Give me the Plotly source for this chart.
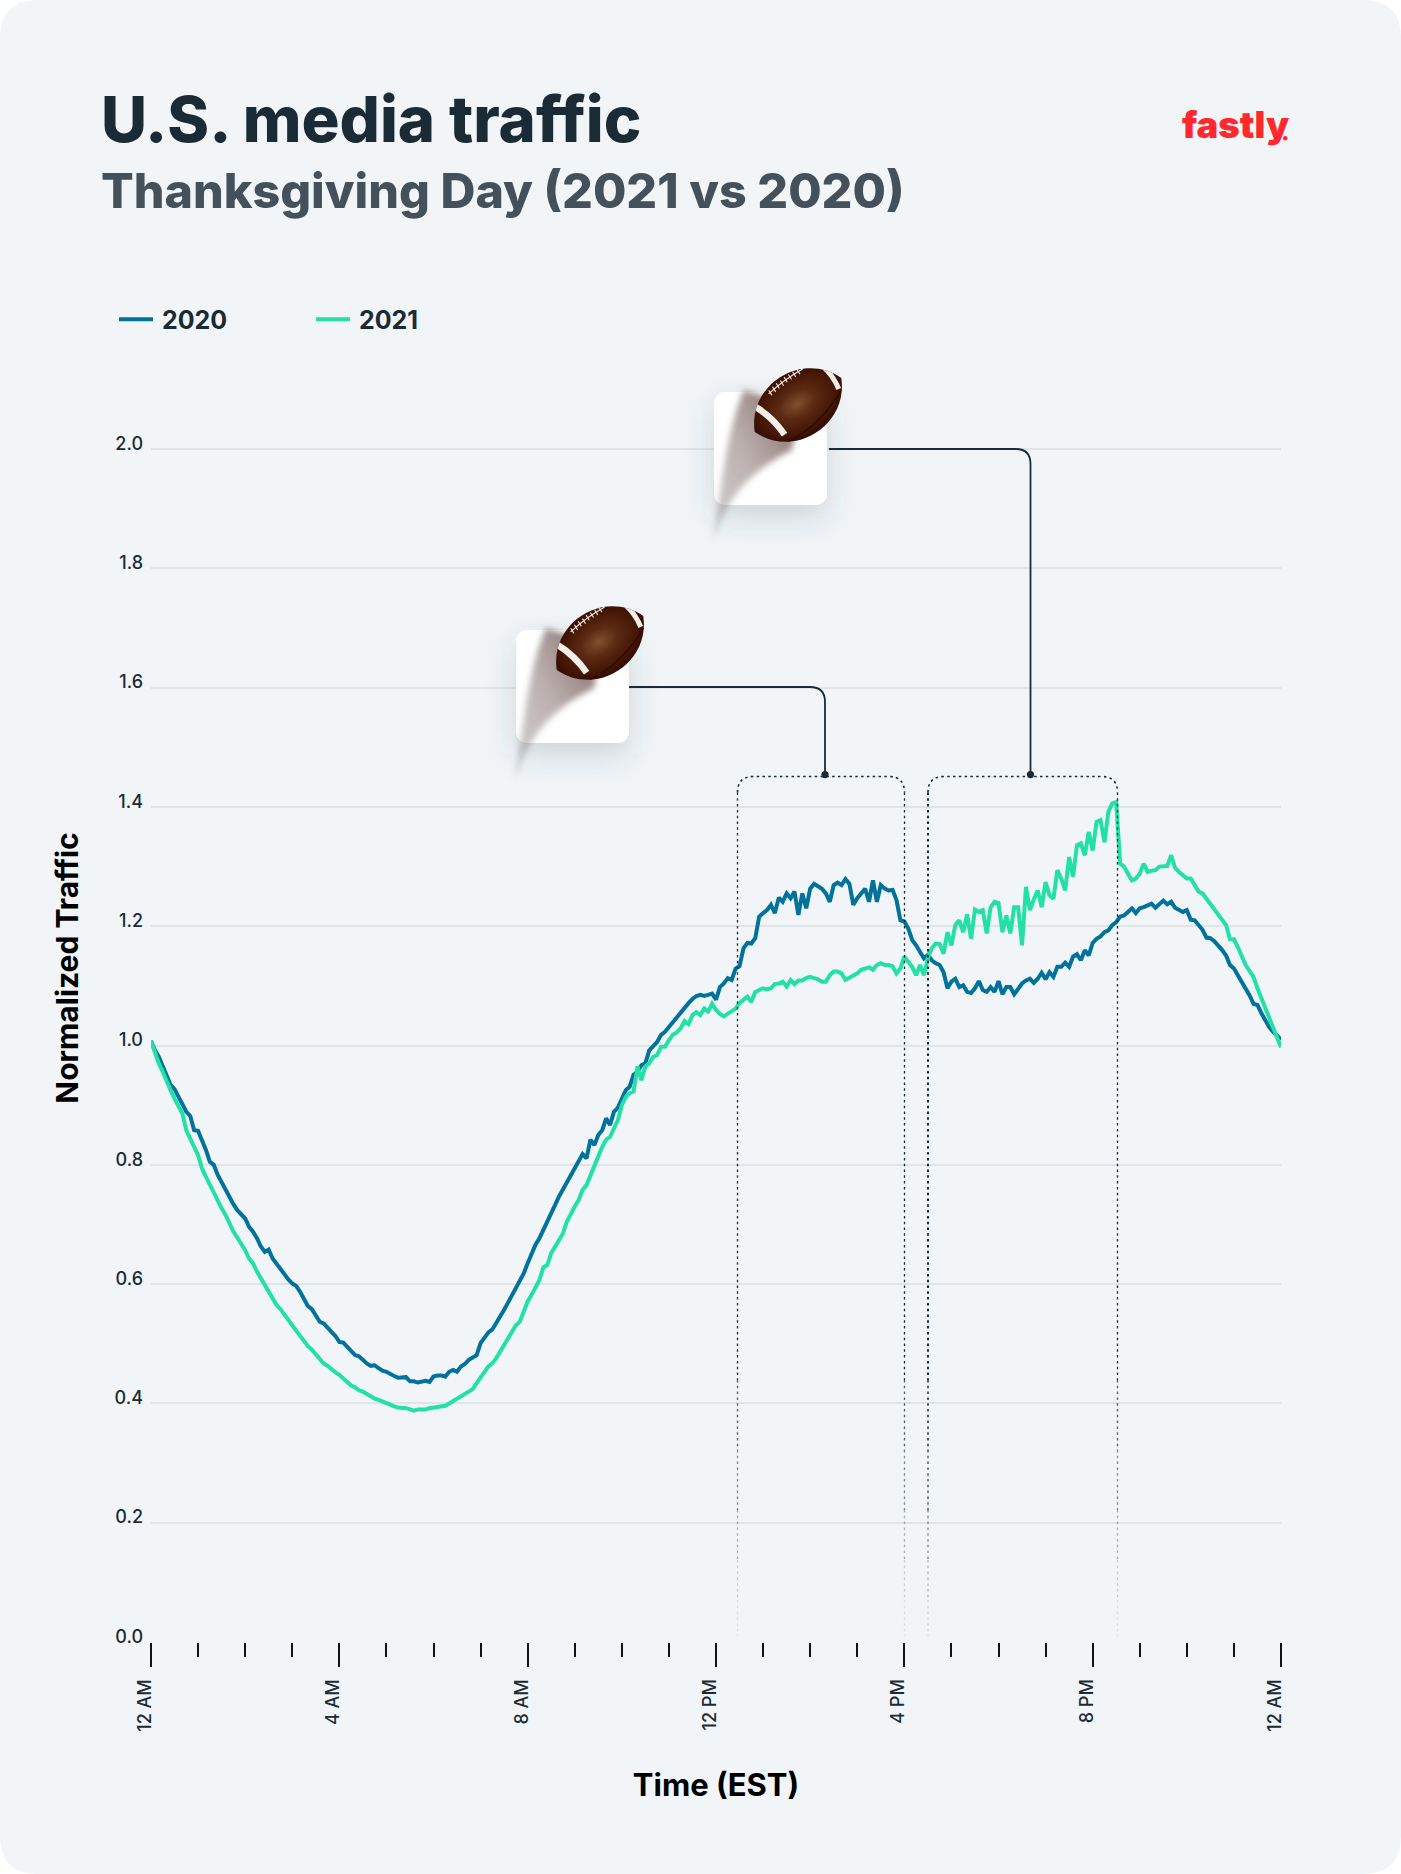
import base64
import plotly.graph_objects as go

# normalized traffic, one reading every 5 minutes from 12 AM to 12 AM
minutes = list(range(0, 1445, 5))

traffic_2020 = [
    1.008, .992, .981, .965, .951, .934, .927, .914, .899, .889, .882, .858,
    .857, .842, .825, .805, .800, .783, .770, .757, .744, .734, .724, .716,
    .710, .696, .688, .677, .663, .654, .658, .643, .634, .624, .615, .608,
    .601, .597, .587, .576, .563, .558, .548, .537, .534, .526, .520, .513,
    .503, .502, .495, .488, .481, .479, .472, .467, .463, .464, .459, .455,
    .453, .449, .446, .443, .444, .444, .437, .437, .435, .437, .438, .436,
    .445, .447, .447, .445, .453, .456, .453, .462, .466, .473, .478, .481,
    .501, .509, .519, .524, .534, .547, .557, .569, .582, .595, .608, .618,
    .635, .652, .666, .677, .692, .705, .721, .733, .747, .759, .769, .783,
    .794, .808, .818, .811, .842, .833, .850, .858, .878, .867, .889, .896,
    .911, .925, .931, .951, .956, .967, .970, .992, .999, 1.006, 1.018, 1.023,
    1.031, 1.039, 1.048, 1.056, 1.065, 1.071, 1.078, 1.083, 1.085, 1.083, 1.085, 1.087,
    1.077, 1.098, 1.104, 1.113, 1.110, 1.129, 1.133, 1.163, 1.172, 1.171, 1.180, 1.216,
    1.222, 1.227, 1.236, 1.222, 1.248, 1.241, 1.255, 1.247, 1.258, 1.219, 1.255, 1.230,
    1.263, 1.271, 1.267, 1.263, 1.255, 1.241, 1.269, 1.273, 1.269, 1.279, 1.271, 1.236,
    1.247, 1.255, 1.263, 1.241, 1.277, 1.241, 1.269, 1.263, 1.260, 1.261, 1.244, 1.210,
    1.208, 1.196, 1.177, 1.168, 1.157, 1.146, 1.152, 1.143, 1.138, 1.135, 1.123, 1.096,
    1.107, 1.112, 1.098, 1.101, 1.090, 1.088, 1.096, 1.108, 1.093, 1.090, 1.098, 1.090,
    1.108, 1.086, 1.098, 1.098, 1.086, 1.095, 1.104, 1.109, 1.112, 1.105, 1.112, 1.122,
    1.111, 1.123, 1.115, 1.132, 1.132, 1.139, 1.132, 1.149, 1.153, 1.143, 1.160, 1.151,
    1.172, 1.179, 1.183, 1.190, 1.193, 1.202, 1.207, 1.216, 1.218, 1.224, 1.230, 1.222,
    1.230, 1.232, 1.235, 1.238, 1.231, 1.238, 1.243, 1.237, 1.241, 1.231, 1.228, 1.224,
    1.227, 1.211, 1.210, 1.202, 1.194, 1.181, 1.180, 1.175, 1.168, 1.160, 1.151, 1.135,
    1.129, 1.118, 1.107, 1.096, 1.084, 1.070, 1.068, 1.054, 1.042, 1.031, 1.023, 1.017,
    1.010,
]

traffic_2021 = [
    1.008, .987, .970, .956, .939, .925, .911, .900, .886, .858, .842, .830,
    .816, .794, .780, .766, .752, .741, .727, .716, .702, .688, .678, .668,
    .657, .643, .635, .621, .610, .599, .587, .576, .565, .558, .548, .540,
    .531, .522, .513, .503, .496, .490, .483, .476, .467, .463, .457, .452,
    .448, .442, .435, .430, .427, .422, .420, .416, .411, .408, .406, .403,
    .400, .397, .395, .393, .393, .392, .390, .388, .390, .390, .390, .392,
    .393, .395, .396, .396, .400, .404, .408, .413, .417, .420, .424, .434,
    .445, .453, .462, .467, .476, .487, .498, .509, .520, .531, .537, .554,
    .571, .582, .596, .607, .628, .632, .652, .663, .677, .685, .705, .719,
    .730, .741, .758, .766, .783, .797, .814, .830, .842, .847, .861, .875,
    .900, .914, .920, .923, .965, .942, .965, .970, .981, .984, .998, .998,
    1.009, 1.018, 1.022, 1.029, 1.041, 1.036, 1.051, 1.056, 1.051, 1.062, 1.057, 1.070,
    1.060, 1.053, 1.049, 1.054, 1.057, 1.062, 1.071, 1.076, 1.082, 1.073, 1.090, 1.093,
    1.096, 1.094, 1.096, 1.103, 1.104, 1.107, 1.099, 1.110, 1.103, 1.109, 1.109, 1.113,
    1.115, 1.113, 1.111, 1.107, 1.107, 1.118, 1.124, 1.124, 1.121, 1.110, 1.114, 1.118,
    1.121, 1.127, 1.129, 1.131, 1.127, 1.135, 1.138, 1.135, 1.135, 1.133, 1.121, 1.129,
    1.149, 1.141, 1.132, 1.118, 1.135, 1.118, 1.146, 1.163, 1.171, 1.170, 1.154, 1.190,
    1.168, 1.202, 1.210, 1.190, 1.220, 1.179, 1.228, 1.224, 1.227, 1.188, 1.232, 1.241,
    1.239, 1.190, 1.218, 1.188, 1.232, 1.232, 1.168, 1.266, 1.227, 1.245, 1.260, 1.232,
    1.274, 1.252, 1.246, 1.294, 1.280, 1.260, 1.316, 1.283, 1.336, 1.339, 1.319, 1.358,
    1.327, 1.375, 1.378, 1.341, 1.392, 1.406, 1.408, 1.305, 1.300, 1.288, 1.277, 1.280,
    1.288, 1.305, 1.291, 1.293, 1.294, 1.300, 1.300, 1.301, 1.319, 1.298, 1.291, 1.286,
    1.280, 1.280, 1.269, 1.258, 1.255, 1.246, 1.238, 1.227, 1.218, 1.210, 1.202, 1.178,
    1.178, 1.165, 1.150, 1.135, 1.125, 1.115, 1.096, 1.079, 1.062, 1.048, 1.031, 1.015,
    .997,
]

assert len(minutes) == len(traffic_2020) == len(traffic_2021), (len(minutes), len(traffic_2020), len(traffic_2021))

hour_ticks = [0, 4, 8, 12, 16, 20, 24]
hour_labels = ['12 AM', '4 AM', '8 AM', '12 PM', '4 PM', '8 PM', '12 AM']
value_ticks = [0, .2, .4, .6, .8, 1, 1.2, 1.4, 1.6, 1.8, 2]

INK = '#1B2B35'
BLUE = '#00729C'
GREEN = '#22E0A6'
PAGE = '#F1F5F8'
GRID = '#E1E4E7'
W, H = 1401, 1874
PLOT_L, PLOT_R, PLOT_T, PLOT_B = 151, 1281, 294, 1642


def px(x):
    return (x - PLOT_L) / (PLOT_R - PLOT_L)


def py(y):
    return (PLOT_B - y) / (PLOT_B - PLOT_T)


def path_str(*cmds):
    # cmds are ('M', x, y), ('L', x, y), ('Q', cx, cy, x, y) in page pixels
    out = []
    for c in cmds:
        pts = c[1:]
        vals = [px(v) if k % 2 == 0 else py(v) for k, v in enumerate(pts)]
        out.append(c[0] + ' ' + ' '.join('{:.5f}'.format(v) for v in vals))
    return ' '.join(out)


def paper_path(path, **kwargs):
    return dict(type='path', path=path, xref='paper', yref='paper', **kwargs)


ball_svg = '''<svg xmlns="http://www.w3.org/2000/svg" width="240" height="260" viewBox="0 0 240 260">
<defs>
<filter id="sh" x="-50%" y="-50%" width="200%" height="200%"><feGaussianBlur stdDeviation="15"/></filter>
<filter id="tr" x="-30%" y="-30%" width="160%" height="160%"><feGaussianBlur stdDeviation="3"/></filter>
<linearGradient id="tg" x1="1" y1="0" x2="0" y2="1">
<stop offset="0" stop-color="#5e3c38" stop-opacity=".8"/><stop offset=".55" stop-color="#6e5552" stop-opacity=".45"/>
<stop offset="1" stop-color="#6b6565" stop-opacity=".3"/></linearGradient>
<radialGradient id="bg" cx=".5" cy=".48" r=".55">
<stop offset="0" stop-color="#80502f"/><stop offset=".35" stop-color="#5c2a12"/>
<stop offset=".75" stop-color="#431505"/><stop offset="1" stop-color="#2b0802"/></radialGradient>
<clipPath id="bc"><path d="M-51,0 C-32,-44 32,-44 51,0 C32,44 -32,44 -51,0 Z"/></clipPath>
</defs>
<g transform="translate(40,40)">
<rect x="0" y="12" width="113" height="113" rx="11" fill="#3c4a55" fill-opacity=".2" filter="url(#sh)"/>
<rect width="113" height="113" rx="11" fill="#ffffff"/>
<path d="M30,-2 C12,40 8,92 -1,150 C12,110 30,82 78,58 L85,15 Z" fill="url(#tg)" filter="url(#tr)"/>
<g transform="translate(84,13) rotate(-32)">
<path d="M-51,0 C-32,-44 32,-44 51,0 C32,44 -32,44 -51,0 Z" fill="url(#bg)"/>
<g clip-path="url(#bc)">
<path d="M-37,-21 Q-28,-3 -27,18" fill="none" stroke="#F3EFE8" stroke-width="6.5"/>
<path d="M40,-24 Q46,-8 43,8" fill="none" stroke="#F3EFE8" stroke-width="5"/>
<path d="M-40,24 Q0,33 46,10" fill="none" stroke="#2b0802" stroke-width="1"/>
</g>
<path d="M-19,-25 Q2,-29 23,-28" fill="none" stroke="#EFE8DD" stroke-width="1.2"/>
<path d="M-17,-28 l0,6 M-12,-29 l0,6 M-7,-30 l0,6 M-2,-30 l0,6 M3,-31 l0,6 M8,-31 l0,6 M13,-31 l0,6 M18,-31 l0,6" fill="none" stroke="#EFE8DD" stroke-width="1.1"/>
</g>
</g>
</svg>'''
ball_uri = 'data:image/svg+xml;base64,' + base64.b64encode(ball_svg.encode()).decode()

fig = go.Figure()
# thin space keeps the legend text clear of its line sample
fig.add_trace(go.Scatter(x=[m / 60 for m in minutes], y=traffic_2020, name='\u20092020', mode='lines',
                         line=dict(color=BLUE, width=4), cliponaxis=False))
fig.add_trace(go.Scatter(x=[m / 60 for m in minutes], y=traffic_2021, name='\u20092021', mode='lines',
                         line=dict(color=GREEN, width=4), cliponaxis=False))

shapes = []
# rounded page behind everything
r = 38
shapes.append(paper_path(path_str(('M', r, 0), ('L', W - r, 0), ('Q', W, 0, W, r), ('L', W, H - r), ('Q', W, H, W - r, H),
                                  ('L', r, H), ('Q', 0, H, 0, H - r), ('L', 0, r), ('Q', 0, 0, r, 0)) + ' Z',
                         fillcolor=PAGE, line=dict(width=0), layer='below'))

# dotted brackets around the two games
box_top = 776.5
box_r = 16
fade_stops = [(1380, 1), (1450, .75), (1510, .55), (1560, .35), (1600, .2), (1636, .1)]
for left, right, left_w in [(737.5, 904.5, 1.3), (928, 1117.5, 2)]:
    shapes.append(paper_path(path_str(('M', left, box_top + box_r), ('Q', left, box_top, left + box_r, box_top),
                                      ('L', right - box_r, box_top), ('Q', right, box_top, right, box_top + box_r)),
                             line=dict(color=INK, width=1.6, dash='2.5px,3.3px'), layer='above'))
    for x, w in [(left, left_w), (right, 1.3)]:
        start = box_top + box_r
        for stop, alpha in fade_stops:
            shapes.append(paper_path(path_str(('M', x, start), ('L', x, stop)),
                                     line=dict(color=INK, width=w, dash='2.5px,3.3px'), opacity=alpha, layer='above'))
            start = stop

# connectors from the footballs down to the brackets
for start_x, start_y, drop_x in [(629, 687, 825), (829, 449, 1030.5)]:
    shapes.append(paper_path(path_str(('M', start_x, start_y), ('L', drop_x - 15, start_y),
                                      ('Q', drop_x, start_y, drop_x, start_y + 15), ('L', drop_x, 775)),
                             line=dict(color=INK, width=1.8), layer='above'))
    shapes.append(dict(type='circle', xref='paper', yref='paper', x0=px(drop_x - 3.6), x1=px(drop_x + 3.6),
                       y0=py(771), y1=py(778.2), fillcolor=INK, line=dict(width=0), layer='above'))

# full stop of the logo
shapes.append(dict(type='circle', xref='paper', yref='paper', x0=px(1283), x1=px(1287.5), y0=py(136), y1=py(140.5),
                   fillcolor='#FF282D', line=dict(width=0), layer='above'))

images = []
for card_x, card_y in [(516, 630), (714, 392)]:
    images.append(dict(source=ball_uri, xref='paper', yref='paper', x=px(card_x - 40), y=py(card_y - 40),
                       sizex=240 / (PLOT_R - PLOT_L), sizey=260 / (PLOT_B - PLOT_T),
                       xanchor='left', yanchor='top', sizing='stretch', layer='above'))

annotations = [
    dict(text='Thanksgiving Day (2021 vs 2020)', xref='paper', yref='paper', x=px(99), y=py(190), xanchor='left',
         yanchor='middle', showarrow=False, font=dict(family='Inter', size=48.4, weight=800, color='#44505A')),
    dict(text='fastly', xref='paper', yref='paper', x=px(1235.5), y=py(125), xanchor='center', yanchor='middle',
         showarrow=False, font=dict(family='Inter', size=36.5, weight=900, color='#FF282D')),
]

fig.update_layout(
    width=W, height=H,
    margin=dict(l=PLOT_L, r=W - PLOT_R, t=PLOT_T, b=H - PLOT_B, autoexpand=False),
    paper_bgcolor='white', plot_bgcolor='rgba(0,0,0,0)',
    font=dict(family='Inter', color=INK),
    title=dict(text='U.S. media traffic', xref='container', yref='container', x=101 / W, xanchor='left',
               y=1 - 120 / H, yanchor='middle', font=dict(family='Inter', size=63.4, weight=800, color=INK)),
    legend=dict(orientation='h', x=px(114), y=py(296.5), xanchor='left', yanchor='top', entrywidth=148, entrywidthmode='pixels',
                itemwidth=34, bgcolor='rgba(0,0,0,0)', font=dict(family='Inter', size=25, weight=700, color=INK)),
    shapes=shapes, images=images, annotations=annotations,
    xaxis=dict(range=[0, 24], tickmode='array', tickvals=hour_ticks, ticktext=hour_labels, tickangle=-90,
               ticks='outside', ticklen=24, tickwidth=2, tickcolor='#111111', showgrid=False, zeroline=False, showline=False,
               ticklabelstandoff=5, ticklabelshift=-6,
               tickfont=dict(family='Inter', size=18, weight=500, color=INK),
               minor=dict(tickmode='linear', tick0=0, dtick=1, ticks='outside', ticklen=14, tickwidth=1.5, tickcolor='#111111', showgrid=False),
               title=dict(text='Time (EST)', standoff=43, font=dict(family='Inter', size=31, weight=700, color='#000000'))),
    yaxis=dict(range=[0, 2.26], tickmode='array', tickvals=value_ticks, tickformat='.1f', ticks='', showgrid=True,
               gridcolor=GRID, gridwidth=1.5, zeroline=False, showline=False, ticklabelposition='outside top',
               ticklabelstandoff=7, ticklabelshift=7,
               tickfont=dict(family='Inter', size=18, weight=500, color=INK),
               title=dict(text='Normalized Traffic', standoff=27, font=dict(family='Inter', size=30, weight=700, color='#000000'))),
)

fig.write_html('out.html', post_script="document.body.style.margin='0';", config={'displayModeBar': False})
